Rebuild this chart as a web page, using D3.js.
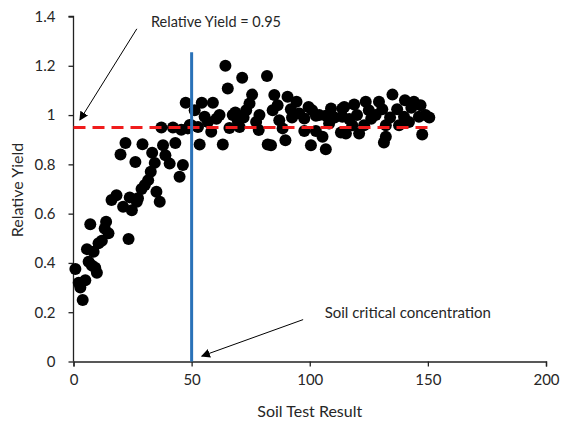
<!DOCTYPE html>
<html><head><meta charset="utf-8">
<script src="https://cdn.jsdelivr.net/npm/d3@7"></script>
<style>
html,body{margin:0;padding:0;background:#fff;}
svg text{font-family:Lato,"Open Sans",sans-serif;fill:#262626;}
</style></head>
<body><svg id="chart" width="566" height="424"></svg>
<script>
const xTicks = [0, 50, 100, 150, 200];
const yTicks = [0, 0.2, 0.4, 0.6, 0.8, 1, 1.2, 1.4];
const yTickLabels = ["0", "0.2", "0.4", "0.6", "0.8", "1", "1.2", "1.4"];
const soilTest = [0.8,2.2,2.9,3.9,5,5.7,6.4,7.1,7.8,8.5,9.2,9.9,10.6,12,13.2,13.8,14.8,16.1,18.2,19.9,21,22,23.3,23.8,24.7,26.2,26.8,27.3,28.8,29.2,30.2,31.6,32.7,33.3,34.4,35.1,36.5,37.2,37.9,38.9,40.7,42.1,43.1,44.9,45.6,46.3,47.5,48.4,49.2,49.9,
51.3,52.7,53.4,54.3,55.5,56.9,58.3,59,60.5,61.8,63.2,64.3,65.3,66,67.4,68.5,69.5,70.3,71.4,72,73.1,74.5,75.6,77.3,78.4,78.7,81.9,82.2,
83.6,84.3,85,86.4,87.1,88.5,89.7,90.6,92,92.5,94.4,95.6,97.7,97.7,99.5,100.5,101,102.6,102.6,104,105.4,106.8,106.8,108.2,109,110.5,113.2,113.8,113.8,114.6,115.3,116.7,118,118.8,120,120.9,123,123.7,125,126,127.9,129.3,130.7,131.4,132.2,132.2,134,135,137,137.8,139.9,140.3,142,143,144.1,146.2,146.9,147.6,149,150.6];
const relYield = [0.375,0.32,0.30,0.25,0.33,0.456,0.405,0.557,0.39,0.445,0.38,0.36,0.48,0.49,0.54,0.567,0.52,0.655,0.675,0.84,0.628,0.887,0.497,0.666,0.614,0.81,0.648,0.662,0.70,0.882,0.716,0.736,0.77,0.847,0.806,0.689,0.648,0.95,0.878,0.837,0.803,0.95,0.887,0.75,0.94,0.797,1.05,0.946,0.96,0.959,
1.02,0.952,0.881,1.05,0.993,0.972,0.932,1.05,0.985,1.0,0.881,1.20,1.108,0.948,1.0,1.01,0.979,0.952,1.151,0.99,1.02,1.047,1.083,0.972,0.939,1.0,1.159,0.881,
0.878,1.02,1.081,1.04,0.979,0.946,0.898,1.074,1.024,0.99,1.054,1.006,0.986,0.935,1.033,0.878,1.02,0.997,0.935,1.0,0.912,0.997,0.861,0.966,1.027,0.99,0.929,1.027,0.993,1.033,0.925,0.984,0.959,1.043,1.0,0.925,0.959,1.054,1.02,0.985,1.0,1.054,1.024,0.889,0.959,0.912,0.99,1.083,1.024,0.959,0.993,1.06,0.972,1.03,1.054,0.993,1.04,0.921,1.0,0.99];
const targetYield = 0.95;
const targetRange = [0, 150];
const criticalConc = 50;
const criticalTop = 1.255;

const svg = d3.select("#chart");
const x = d3.scaleLinear().domain([0, 200]).range([73.5, 546]);
const y = d3.scaleLinear().domain([0, 1.4]).range([361.5, 16.5]);

const defs = svg.append("defs");
defs.append("marker").attr("id","arr").attr("viewBox","0 0 10 10").attr("refX",9).attr("refY",5)
  .attr("markerWidth",9).attr("markerHeight",9).attr("markerUnits","userSpaceOnUse").attr("orient","auto")
  .append("path").attr("d","M0,0 L10,5 L0,10 z").attr("fill","#000");

// axes
const xAxis = svg.append("g").attr("transform",`translate(0,${y(0)})`)
  .call(d3.axisBottom(x).tickValues(xTicks).tickSize(5).tickPadding(8).tickFormat(d3.format("d")));
const yAxis = svg.append("g").attr("transform",`translate(${x(0)},0)`)
  .call(d3.axisLeft(y).tickValues(yTicks).tickSize(5).tickPadding(13).tickFormat((d,i)=>yTickLabels[i]));
[xAxis,yAxis].forEach(g=>{
  g.selectAll("path").attr("stroke","#222").attr("stroke-width",1.3);
  g.selectAll("line").attr("stroke","#222").attr("stroke-width",1.3);
  g.selectAll("text").style("font-size","15px").attr("fill","#262626").style("font-family","Lato, sans-serif");
});
yAxis.select(".domain").attr("d",`M-5,${y(1.4)}H0V${y(0)}`);

// points
svg.append("g").selectAll("circle").data(soilTest.map((d,i)=>[d,relYield[i]])).join("circle")
  .attr("cx",d=>x(d[0])).attr("cy",d=>y(d[1])).attr("r",6).attr("fill","#000");

// reference lines
svg.append("line").attr("x1",x(targetRange[0])).attr("x2",x(targetRange[1]))
  .attr("y1",y(targetYield)).attr("y2",y(targetYield))
  .attr("stroke","#f01c1c").attr("stroke-width",3).attr("stroke-dasharray","12,7");
svg.append("line").attr("x1",x(criticalConc)).attr("x2",x(criticalConc))
  .attr("y1",y(0)).attr("y2",y(criticalTop))
  .attr("stroke","#2a72b8").attr("stroke-width",3);

// annotations
svg.append("line").attr("x1",x(26.8)).attr("y1",y(1.35)).attr("x2",x(2.7)).attr("y2",y(0.98))
  .attr("stroke","#000").attr("stroke-width",1).attr("marker-end","url(#arr)");
svg.append("text").attr("x",x(32.8)).attr("y",y(1.357)).style("font-size","14.5px").text("Relative Yield = 0.95");
svg.append("line").attr("x1",x(97.2)).attr("y1",y(0.17)).attr("x2",x(54.3)).attr("y2",y(0.022))
  .attr("stroke","#000").attr("stroke-width",1).attr("marker-end","url(#arr)");
svg.append("text").attr("x",x(106.3)).attr("y",y(0.176)).style("font-size","15px").text("Soil critical concentration");

// axis titles
svg.append("text").attr("x",x(100)).attr("y",417).attr("text-anchor","middle").style("font-size","16px").text("Soil Test Result");
svg.append("text").attr("transform","translate(23,190) rotate(-90)").attr("text-anchor","middle").style("font-size","16px").text("Relative Yield");
</script></body></html>
